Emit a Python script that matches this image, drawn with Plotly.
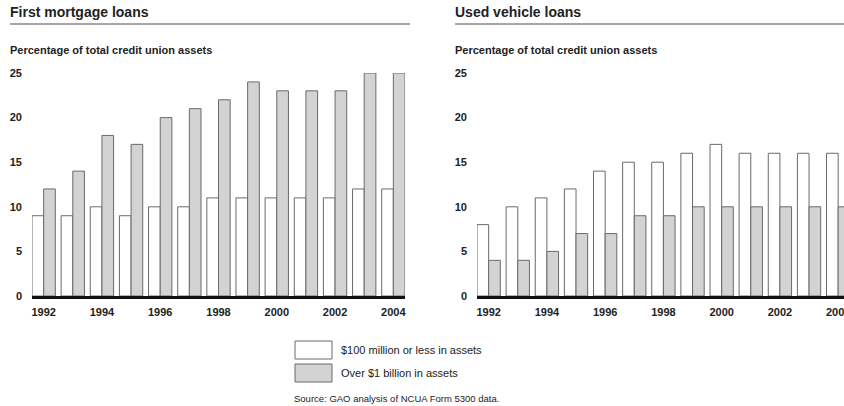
import plotly.graph_objects as go

years = list(range(1992, 2005))

mortgage_small = [9, 9, 10, 9, 10, 10, 11, 11, 11, 11, 11, 12, 12]
mortgage_large = [12, 14, 18, 17, 20, 21, 22, 24, 23, 23, 23, 25, 25]

vehicle_small = [8, 10, 11, 12, 14, 15, 15, 16, 17, 16, 16, 16, 16]
vehicle_large = [4, 4, 5, 7, 7, 9, 9, 10, 10, 10, 10, 10, 10]

series_names = ['$100 million or less in assets', 'Over $1 billion in assets']
x_ticks = [1992, 1994, 1996, 1998, 2000, 2002, 2004]
y_ticks = [0, 5, 10, 15, 20, 25]

W, H = 844, 406
FONT = 'Liberation Sans, Arial, sans-serif'
WHITE = '#ffffff'
GRAY = '#d3d3d3'
EDGE = '#6a6a6a'


def px_x(v):
    return v / W


def px_y(v):
    return 1 - v / H


fig = go.Figure()

panels = [
    ('x', 'y', mortgage_small, mortgage_large),
    ('x2', 'y2', vehicle_small, vehicle_large),
]
for xa, ya, small, large in panels:
    fig.add_trace(go.Bar(x=years, y=small, name=series_names[0], xaxis=xa, yaxis=ya,
                         offsetgroup='a', marker=dict(color=WHITE, line=dict(color=EDGE, width=1)),
                         showlegend=False, hoverinfo='x+y'))
    fig.add_trace(go.Bar(x=years, y=large, name=series_names[1], xaxis=xa, yaxis=ya,
                         offsetgroup='b', marker=dict(color=GRAY, line=dict(color=EDGE, width=1)),
                         showlegend=False, hoverinfo='x+y'))

tick_font = dict(family=FONT, size=11, color='#222', weight='bold')
y_top, y_bot = 73, 296

xaxis_common = dict(tickvals=x_ticks, tickfont=tick_font, showgrid=False, zeroline=False,
                    showline=True, linecolor='#111', linewidth=3, ticks='', ticklabelstandoff=4,
                    ticklabeloverflow='allow', automargin=False, fixedrange=True)
yaxis_common = dict(range=[0, 25], tickvals=y_ticks, tickfont=tick_font, showgrid=False,
                    zeroline=False, showline=False, ticks='', ticklabelstandoff=9,
                    automargin=False, domain=[px_y(y_bot), px_y(y_top)], fixedrange=True)

fig.update_layout(
    width=W, height=H,
    margin=dict(l=0, r=0, t=0, b=0, autoexpand=False),
    paper_bgcolor='white', plot_bgcolor='white',
    barmode='group', bargap=0.2, bargroupgap=0,
    font=dict(family=FONT, color='#222'),
    xaxis=dict(xaxis_common, range=[1991.6, 2004.4], domain=[px_x(32), px_x(405)], anchor='y'),
    yaxis=dict(yaxis_common, anchor='x'),
    xaxis2=dict(xaxis_common, range=[1991.6, 2004.2], domain=[px_x(477), 1.0], anchor='y2'),
    yaxis2=dict(yaxis_common, anchor='x2'),
)

# panel headers
for x0, x1, title in [(10, 410, 'First mortgage loans'), (455, 844, 'Used vehicle loans')]:
    fig.add_annotation(x=px_x(x0 - 2), y=px_y(12.5), xref='paper', yref='paper', text=title,
                       showarrow=False, xanchor='left', yanchor='middle',
                       font=dict(family=FONT, size=14, color='#222', weight='bold'))
    fig.add_shape(type='line', xref='paper', yref='paper', x0=px_x(x0), x1=px_x(x1),
                  y0=px_y(24), y1=px_y(24), line=dict(color='#8a8a8a', width=1.5))
    fig.add_annotation(x=px_x(x0 - 2), y=px_y(49.5), xref='paper', yref='paper',
                       text='Percentage of total credit union assets',
                       showarrow=False, xanchor='left', yanchor='middle',
                       font=dict(family=FONT, size=11, color='#222', weight='bold'))

# legend
for (top, bottom), fill, label in [((341, 359), WHITE, series_names[0]),
                                   ((364, 382), GRAY, series_names[1])]:
    fig.add_shape(type='rect', xref='paper', yref='paper', x0=px_x(295), x1=px_x(332),
                  y0=px_y(bottom), y1=px_y(top), fillcolor=fill, line=dict(color=EDGE, width=1))
    fig.add_annotation(x=px_x(339), y=px_y((top + bottom) / 2), xref='paper', yref='paper',
                       text=label, showarrow=False, xanchor='left', yanchor='middle',
                       font=dict(family=FONT, size=11, color='#222'))

fig.add_annotation(x=px_x(292), y=px_y(398), xref='paper', yref='paper',
                   text='Source: GAO analysis of NCUA Form 5300 data.', showarrow=False,
                   xanchor='left', yanchor='middle', font=dict(family=FONT, size=9.5, color='#222'))

# page body margin would otherwise push the 844x406 figure off the window edges
fig.write_html("out.html", config={'displayModeBar': False},
               post_script="document.body.style.margin='0';document.body.style.overflow='hidden';")
